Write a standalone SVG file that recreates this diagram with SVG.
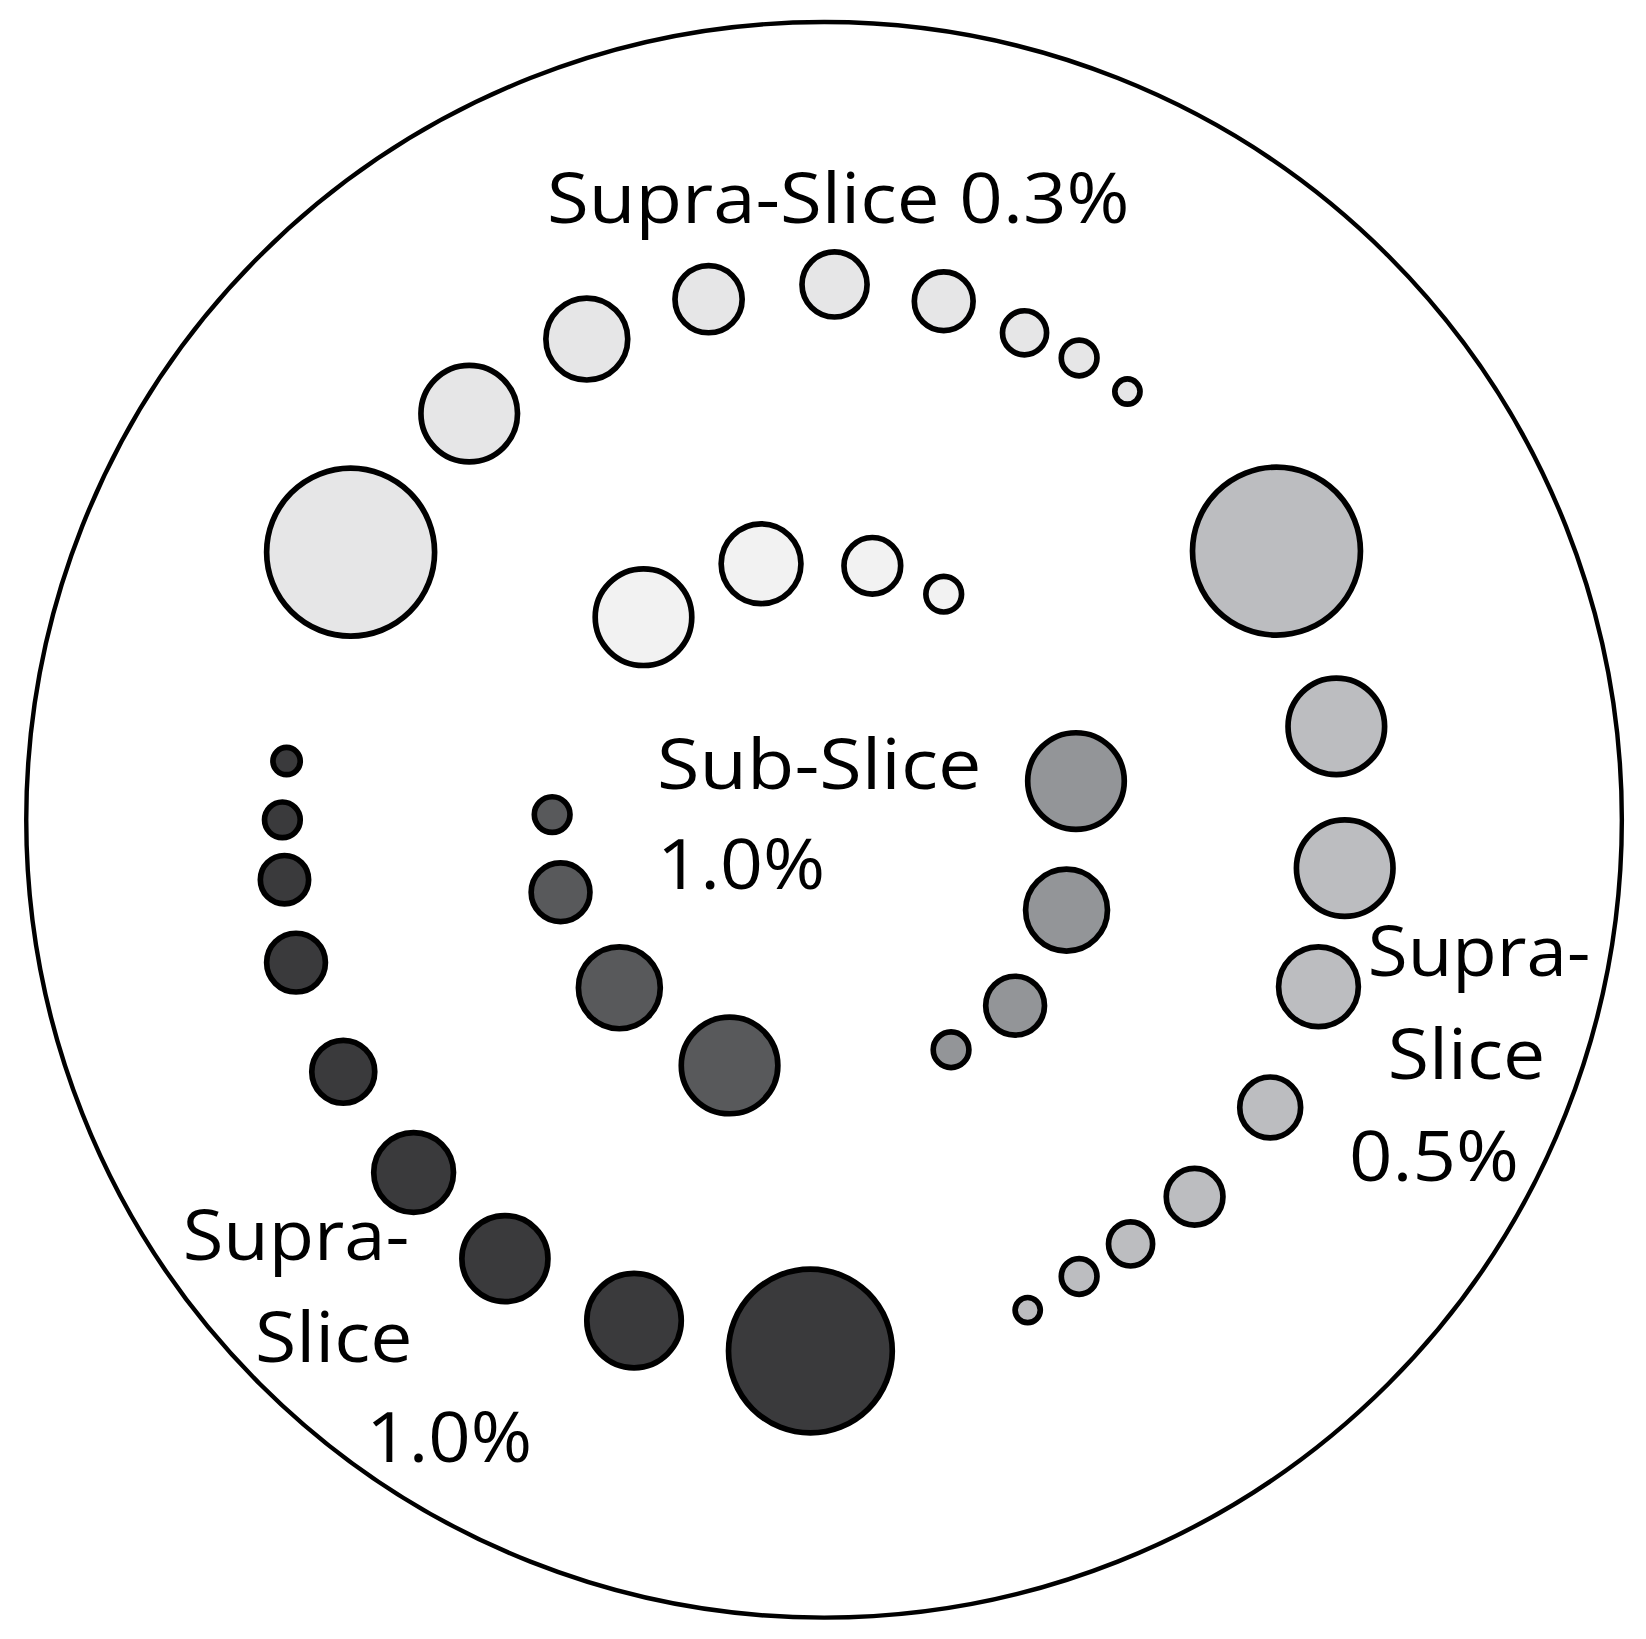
<svg xmlns="http://www.w3.org/2000/svg" width="1646" height="1639" viewBox="0 0 1646 1639">
<style>
.c{stroke:#000;stroke-width:5.4}
.l1{fill:#e6e6e7}.l2{fill:#f2f2f2}.g1{fill:#bcbdc0}.g2{fill:#939598}.d1{fill:#3a3a3c}.d2{fill:#58595b}
text{font-family:"Open Sans","Noto Sans",sans-serif;font-size:67px;fill:#000}
</style>
<rect width="1646" height="1639" fill="#fff"/>
<g transform="scale(1.04974)">
<g id="boundary"><circle cx="785" cy="781" r="760" fill="none" stroke="#000" stroke-width="4.2"/></g>
<g id="supra03">
<circle class="c l1" cx="334" cy="526" r="80"/>
<circle class="c l1" cx="447" cy="394" r="46"/>
<circle class="c l1" cx="559" cy="323" r="39"/>
<circle class="c l1" cx="675" cy="285" r="32"/>
<circle class="c l1" cx="795" cy="271" r="31"/>
<circle class="c l1" cx="899" cy="287" r="28"/>
<circle class="c l1" cx="976" cy="317" r="21"/>
<circle class="c l1" cx="1028" cy="341" r="17"/>
<circle class="c l1" cx="1074" cy="373" r="12"/>
</g>
<g id="inner-light">
<circle class="c l2" cx="613" cy="588" r="46"/>
<circle class="c l2" cx="725" cy="537" r="38"/>
<circle class="c l2" cx="831" cy="539" r="27"/>
<circle class="c l2" cx="899" cy="566" r="17"/>
</g>
<g id="supra05">
<circle class="c g1" cx="1216" cy="525" r="80"/>
<circle class="c g1" cx="1273" cy="692" r="46"/>
<circle class="c g1" cx="1281" cy="827" r="46"/>
<circle class="c g1" cx="1256" cy="940" r="38"/>
<circle class="c g1" cx="1210" cy="1055" r="29"/>
<circle class="c g1" cx="1138" cy="1140" r="27"/>
<circle class="c g1" cx="1077" cy="1185" r="21"/>
<circle class="c g1" cx="1028" cy="1216" r="17"/>
<circle class="c g1" cx="979" cy="1248" r="12"/>
</g>
<g id="inner-grey">
<circle class="c g2" cx="1025" cy="744" r="46"/>
<circle class="c g2" cx="1016" cy="867" r="39"/>
<circle class="c g2" cx="967" cy="958" r="28"/>
<circle class="c g2" cx="906" cy="1000" r="17"/>
</g>
<g id="supra10">
<circle class="c d1" cx="772" cy="1287" r="78"/>
<circle class="c d1" cx="604" cy="1258" r="45"/>
<circle class="c d1" cx="481" cy="1199" r="41"/>
<circle class="c d1" cx="394" cy="1117" r="38"/>
<circle class="c d1" cx="327" cy="1021" r="30"/>
<circle class="c d1" cx="282" cy="917" r="28"/>
<circle class="c d1" cx="271" cy="838" r="23"/>
<circle class="c d1" cx="269" cy="781" r="17"/>
<circle class="c d1" cx="273" cy="725" r="13"/>
</g>
<g id="sub10">
<circle class="c d2" cx="695" cy="1015" r="46"/>
<circle class="c d2" cx="590" cy="941" r="39"/>
<circle class="c d2" cx="534" cy="850" r="28"/>
<circle class="c d2" cx="526" cy="776" r="17"/>
</g>
<g id="labels">
<text x="521" y="212" textLength="555" lengthAdjust="spacingAndGlyphs">Supra-Slice 0.3%</text>
<text x="626" y="752" textLength="309" lengthAdjust="spacingAndGlyphs">Sub-Slice</text>
<text x="626" y="847" textLength="160" lengthAdjust="spacingAndGlyphs">1.0%</text>
<text x="1303" y="930" textLength="212" lengthAdjust="spacingAndGlyphs">Supra-</text>
<text x="1322" y="1028" textLength="150" lengthAdjust="spacingAndGlyphs">Slice</text>
<text x="1285" y="1125" textLength="162" lengthAdjust="spacingAndGlyphs">0.5%</text>
<text x="174" y="1200" textLength="216" lengthAdjust="spacingAndGlyphs">Supra-</text>
<text x="243" y="1297" textLength="150" lengthAdjust="spacingAndGlyphs">Slice</text>
<text x="349" y="1393" textLength="158" lengthAdjust="spacingAndGlyphs">1.0%</text>
</g>
</g>
</svg>
